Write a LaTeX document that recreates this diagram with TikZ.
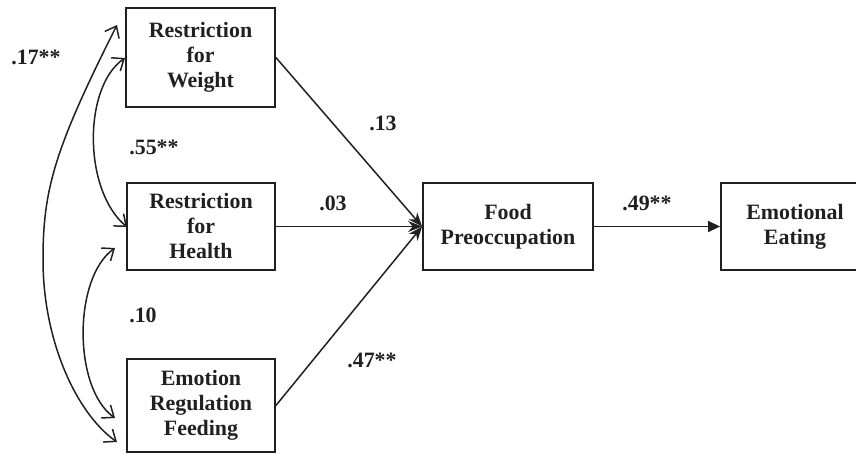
\documentclass[tikz,border=0pt]{standalone}
\usepackage{fontspec}
\setmainfont{Liberation Serif}
\usetikzlibrary{arrows.meta}
\definecolor{ink}{HTML}{231F20}
\begin{document}
\begin{tikzpicture}[x=1pt,y=-1pt,
  box/.style={draw=ink, text=ink, line width=1.8pt, inner sep=0pt, align=center,
    font=\fontsize{21.9}{25}\selectfont\bfseries},
  lab/.style={inner sep=0pt, text=ink, font=\fontsize{21.9}{25}\selectfont\bfseries},
  conn/.style={draw=ink, line width=1.5pt, -{Stealth[length=14pt,width=11pt]}},
  conntri/.style={draw=ink, line width=1.5pt, -{Triangle[length=12pt,width=11pt]}},
  cov/.style={draw=ink, line width=1.5pt,
    {Straight Barb[length=10pt,width=16pt]}-{Straight Barb[length=10pt,width=16pt]}}
]
\useasboundingbox (0,0) rectangle (856,453);

% boxes
\node[box, minimum width=149pt, minimum height=99pt] (rw) at (200.5,57.5) {Restriction\\for\\Weight};
\node[box, minimum width=148pt, minimum height=87pt] (rh) at (201,226.5) {Restriction\\for\\Health};
\node[box, minimum width=148pt, minimum height=93pt] (erf) at (201,405.5) {Emotion\\Regulation\\Feeding};
\node[box, minimum width=170pt, minimum height=87pt] (fp) at (508,226.5) {Food\\Preoccupation};
\node[box, minimum width=148pt, minimum height=87pt] (ee) at (795,226.5) {Emotional\\Eating};

% paths
\draw[conn] (rw.east) -- (fp.west);
\draw[conn] (rh.east) -- (fp.west);
\draw[conn] (erf.east) -- (fp.west);
\draw[conntri] (fp.east) -- (ee.west);

% covariances
\coordinate (a17) at (117,25);
\coordinate (m17) at (43,260);
\coordinate (b17) at (117,442);
\draw[cov] (a17) .. controls (54,150) and (43,190) .. (m17)
  .. controls (43,340) and (76,413) .. (b17);

\coordinate (a55) at (125,58);
\coordinate (b55) at (127,227);
\draw[cov] (a55) .. controls (83,87) and (83,190) .. (b55);

\coordinate (a10) at (115,248);
\coordinate (b10) at (115,418);
\draw[cov] (a10) .. controls (73,278) and (73,388) .. (b10);

% labels
\node[lab] (l13) at (383,123) {.13};
\node[lab] (l03) at (333,203) {.03};
\node[lab] (l47) at (372,360) {.47**};
\node[lab] (l49) at (647,203) {.49**};
\node[lab] (l17) at (36,57) {.17**};
\node[lab] (l55) at (154,147) {.55**};
\node[lab] (l10) at (143,315) {.10};
\end{tikzpicture}
\end{document}
